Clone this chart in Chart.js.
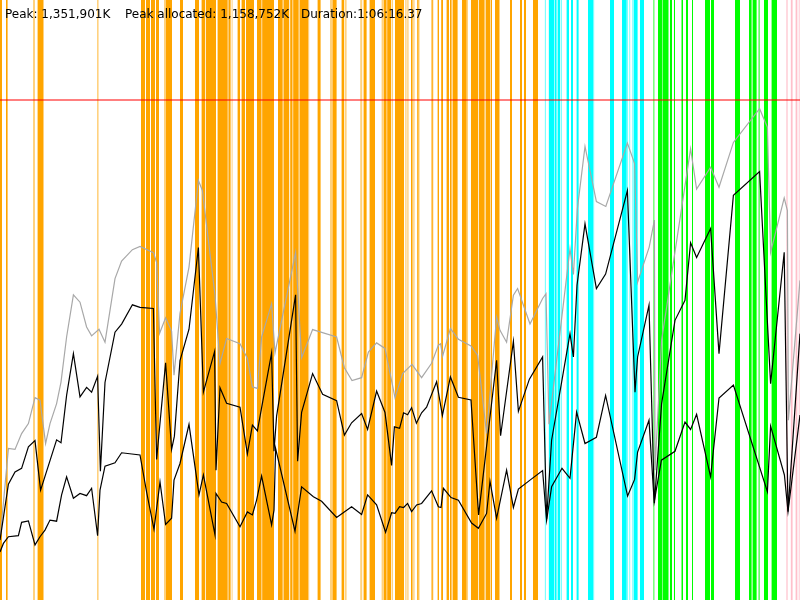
<!DOCTYPE html>
<html>
<head>
<meta charset="utf-8">
<title>Memory timeline</title>
<script src="https://cdn.jsdelivr.net/npm/chart.js@4.4.1/dist/chart.umd.min.js"></script>
<style>
  html, body { margin: 0; padding: 0; background: #fff; }
  canvas { display: block; }
</style>
</head>
<body>
<canvas id="memChart" width="800" height="600"></canvas>
<script>
// header values
var peakK = '1,351,901K';
var peakAllocK = '1,158,752K';
var duration = '1:06:16.37';
var peakMB = 1351.9;

// time (s) / memory (MB) samples
var lowerTime = [0,17,42,92,108,142,175,200,225,250,283,308,333,367,400,433,458,488,500,525,575,608,700,733,770,800,828,858,870,900,945,995,1017,1075,1080,1108,1133,1200,1237,1262,1283,1308,1358,1370,1378,1475,1508,1567,1608,1683,1758,1808,1838,1883,1928,1958,1975,1998,2018,2038,2058,2083,2108,2158,2192,2205,2217,2255,2292,2358,2392,2433,2450,2483,2533,2567,2592,2650,2713,2733,2758,2810,2850,2883,2925,2982,3028,3138,3173,3188,3245,3271,3307,3375,3425,3453,3483,3553,3595,3667,3837,3853,3922,3940,4000];
var lowerMB = [130,153,171,174,210,214,149,171,189,216,213,284,333,275,288,282,302,174,297,362,371,398,392,292,191,319,204,221,324,369,475,284,338,176,288,265,261,198,238,230,270,335,203,243,410,186,306,279,267,223,252,231,284,257,183,236,234,252,250,261,239,257,261,295,252,250,302,277,270,208,194,234,321,221,351,250,300,324,350,215,306,356,329,508,423,440,553,281,326,400,486,265,378,402,481,461,502,333,546,581,293,470,338,239,500];

var upperTime = [0,42,75,108,142,175,203,283,305,333,367,400,433,458,488,502,525,575,608,662,700,767,783,828,858,872,900,945,992,1017,1073,1080,1100,1133,1200,1237,1262,1287,1358,1370,1383,1478,1488,1508,1563,1613,1683,1722,1758,1808,1838,1883,1925,1958,1972,1998,2018,2038,2058,2082,2108,2133,2183,2212,2252,2292,2355,2393,2483,2503,2567,2592,2647,2713,2733,2758,2850,2867,2885,2925,2982,3028,3137,3175,3188,3245,3272,3308,3375,3425,3453,3483,3553,3595,3667,3798,3853,3921,3940,4000];
var upperMB = [162,313,346,356,414,431,297,433,425,553,666,549,575,562,605,348,588,724,746,798,791,788,380,641,407,443,647,732,953,562,672,351,574,532,521,395,473,457,668,402,497,825,375,507,612,556,539,446,479,504,461,565,507,364,468,464,506,501,520,478,506,521,590,499,603,548,541,230,648,444,699,510,597,657,219,432,720,657,851,1017,842,881,1107,562,657,797,262,531,756,810,966,926,1004,666,1094,1158,585,940,239,720];

var grayTime = [0,42,75,108,142,175,200,228,250,283,305,333,367,400,433,458,495,525,575,608,662,700,767,783,798,828,858,870,900,945,992,1012,1075,1100,1133,1200,1237,1262,1287,1308,1358,1375,1478,1508,1563,1683,1722,1760,1808,1842,1883,1925,1975,2013,2060,2108,2158,2192,2203,2213,2252,2292,2355,2388,2433,2483,2500,2533,2567,2588,2650,2713,2730,2745,2850,2867,2887,2925,2982,3029,3137,3173,3188,3246,3272,3275,3308,3453,3483,3553,3595,3667,3798,3837,3853,3921,3937,3942,4000];
var grayMB = [162,410,407,450,477,547,540,423,477,531,589,711,825,805,738,714,732,697,869,916,947,956,939,913,721,763,727,608,775,900,1134,1107,824,639,707,693,653,576,572,711,801,668,940,655,731,711,628,593,601,670,695,680,547,612,637,601,640,689,693,659,734,705,687,662,450,765,729,697,824,842,746,815,828,475,950,880,1058,1226,1077,1064,1235,1180,859,954,1027,351,702,1220,1111,1170,1116,1237,1328,1278,940,1087,1053,486,864];

// event stripes, [start, end] in seconds
var orangeRuns = [[0,10],[30,38],[188,215],[705,725],[730,750],[755,775],[780,795],[830,860],[900,915],[975,995],[1008,1026],[1030,1080],[1088,1138],[1143,1153],[1188,1200],[1208,1225],[1230,1270],[1285,1306],[1311,1370],[1390,1413],[1420,1446],[1451,1461],[1466,1493],[1500,1541],[1588,1603],[1663,1683],[1708,1721],[1818,1833],[1848,1875],[1918,1933],[1936,1956],[1975,2020],[2055,2063],[2086,2093],[2161,2166],[2188,2195],[2206,2215],[2233,2245],[2250,2258],[2263,2288],[2310,2333],[2355,2391],[2395,2423],[2428,2450],[2453,2460],[2475,2495],[2550,2560],[2600,2610],[2620,2630],[2665,2690]];
var orangeFaint = [[165,175],[215,220],[485,493],[820,830],[1138,1143],[1158,1163],[1306,1311],[1413,1420],[1461,1466],[1493,1500],[1541,1546],[1650,1663],[1725,1733],[1801,1811],[1908,1916],[1960,1965],[2026,2033],[2036,2043],[2066,2073],[2093,2098],[2155,2161],[2333,2340],[2495,2500]];
var cyanRuns = [[2743,2770],[2773,2783],[2788,2800],[2833,2845],[2855,2865],[2883,2893],[2940,2966],[3050,3070],[3110,3133],[3168,3188],[3200,3220]];
var cyanFaint = [[2723,2730],[2803,2810],[2966,2971],[3133,3140],[3146,3151],[3161,3166]];
var greenRuns = [[3290,3310],[3315,3340],[3350,3360],[3370,3375],[3410,3415],[3430,3440],[3460,3465],[3525,3550],[3555,3570],[3675,3700],[3745,3758],[3763,3783],[3793,3798],[3820,3840],[3858,3885]];
var greenFaint = [[3265,3273],[3310,3315],[3340,3345],[3405,3410]];
var pinkRuns = [[3953,3963],[3978,3988]];
var pinkFaint = [[3930,3940],[3993,4000]];

function toPoints(xs, ys) {
    return xs.map(function(x, i) { return {x: x, y: ys[i]}; });
}

// each run becomes a filled step from 1 down to 0
function toSteps(runs) {
    var pts = [];
    runs.forEach(function(r) {
        pts.push({x: r[0], y: 1});
        pts.push({x: r[1], y: 0});
    });
    return pts;
}

function memLine(data, color) {
    return {
        data: data,
        borderColor: color,
        borderWidth: 1.2,
        pointRadius: 0,
        fill: false,
        tension: 0
    };
}

function stripes(runs, color) {
    return {
        data: toSteps(runs),
        yAxisID: 'y2',
        stepped: 'before',
        fill: 'origin',
        backgroundColor: color,
        borderColor: 'transparent',
        borderWidth: 0,
        pointRadius: 0
    };
}

var header = {
    id: 'header',
    afterDraw: function(chart) {
        var ctx = chart.ctx;
        ctx.save();
        ctx.font = '12px "DejaVu Sans", sans-serif';
        ctx.fillStyle = '#000';
        ctx.textBaseline = 'alphabetic';
        ctx.fillText('Peak: ' + peakK, 5, 18);
        ctx.fillText('Peak allocated: ' + peakAllocK, 125, 18);
        ctx.fillText('Duration:' + duration, 301, 18);
        ctx.restore();
    }
};

document.addEventListener('DOMContentLoaded', function() {
    var ctx = document.getElementById('memChart').getContext('2d');
    new Chart(ctx, {
        type: 'line',
        data: {
            datasets: [
                memLine(toPoints(lowerTime, lowerMB), '#000'),
                memLine(toPoints(upperTime, upperMB), '#000'),
                memLine(toPoints(grayTime, grayMB), '#a8a8a8'),
                {
                    data: [{x: 0, y: peakMB}, {x: 4000, y: peakMB}],
                    borderColor: 'rgba(255, 0, 0, 0.5)',
                    borderWidth: 2,
                    pointRadius: 0,
                    fill: false
                },
                stripes(orangeRuns, '#ffa500'),
                stripes(orangeFaint, 'rgba(255, 165, 0, 0.5)'),
                stripes(cyanRuns, '#00ffff'),
                stripes(cyanFaint, 'rgba(0, 255, 255, 0.5)'),
                stripes(greenRuns, '#00ff00'),
                stripes(greenFaint, 'rgba(0, 255, 0, 0.5)'),
                stripes(pinkRuns, '#ffc0cb'),
                stripes(pinkFaint, 'rgba(255, 192, 203, 0.6)')
            ]
        },
        options: {
            responsive: false,
            animation: false,
            layout: { padding: 0 },
            plugins: {
                legend: { display: false },
                title: { display: false },
                tooltip: { enabled: false }
            },
            scales: {
                x: { type: 'linear', min: 0, max: 4000, display: false },
                y: { min: 0, max: 1622, display: false },
                y2: { min: 0, max: 1, display: false }
            }
        },
        plugins: [header]
    });
});
</script>
</body>
</html>
